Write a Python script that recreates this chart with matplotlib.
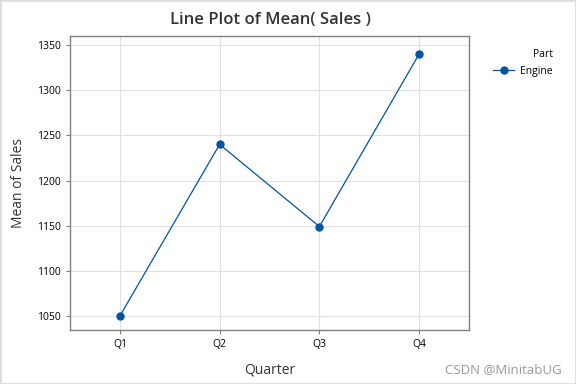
import matplotlib
matplotlib.use("Agg")
import matplotlib.pyplot as plt
from matplotlib.patches import Rectangle

plt.rcParams['font.family'] = ['Open Sans', 'DejaVu Sans']

# data
quarters = ['Q1', 'Q2', 'Q3', 'Q4']
mean_sales = [1050, 1240, 1149, 1340]
yticks = [1050, 1100, 1150, 1200, 1250, 1300, 1350]

line_color = '#0054A6'
text_color = '#333333'

fig = plt.figure(figsize=(5.76, 3.84), dpi=100)
ax = fig.add_axes([70/576, 1 - 330/384, 399/576, 294/384])

x = list(range(len(quarters)))
ax.plot(x, mean_sales, color=line_color, linewidth=0.9, marker='o',
        markersize=5, label='Engine', zorder=3)

ax.set_xlim(-0.5, 3.5)
ax.set_ylim(1034.5, 1360)
ax.set_xticks(x)
ax.set_xticklabels(quarters)
ax.set_yticks(yticks)
ax.grid(True, color='#e0e0e0', linewidth=0.8)
ax.set_axisbelow(True)
for s in ax.spines.values():
    s.set_color('#808080')
    s.set_linewidth(1)
ax.tick_params(labelsize=7.5, colors='#808080', labelcolor='black', length=3, width=0.8)

ax.set_xlabel('Quarter', fontsize=10, color=text_color, labelpad=9, fontweight='medium')
ax.set_ylabel('Mean of Sales', fontsize=10, color=text_color, labelpad=8, fontweight='medium')
fig.text(270/576, 1 - 20/384, 'Line Plot of Mean( Sales )', fontsize=12,
         color=text_color, ha='center', va='center', fontweight='semibold')

leg = fig.legend(loc='upper left', bbox_to_anchor=(484/576, 1 - 40/384),
                 title='Part', frameon=False, fontsize=7.5, title_fontsize=7.5,
                 handlelength=2.0, handletextpad=0.6, markerscale=1.0)
leg._legend_box.align = 'right'

fig.text(562/576, 1 - 370/384, 'CSDN @MinitabUG', fontsize=9.5, color='#999999',
         ha='right', va='center')

fig.patches.append(Rectangle((0, 0), 1, 1, transform=fig.transFigure,
                             fill=False, edgecolor='#dddddd', linewidth=2))

fig.savefig('out.png', dpi=100)
